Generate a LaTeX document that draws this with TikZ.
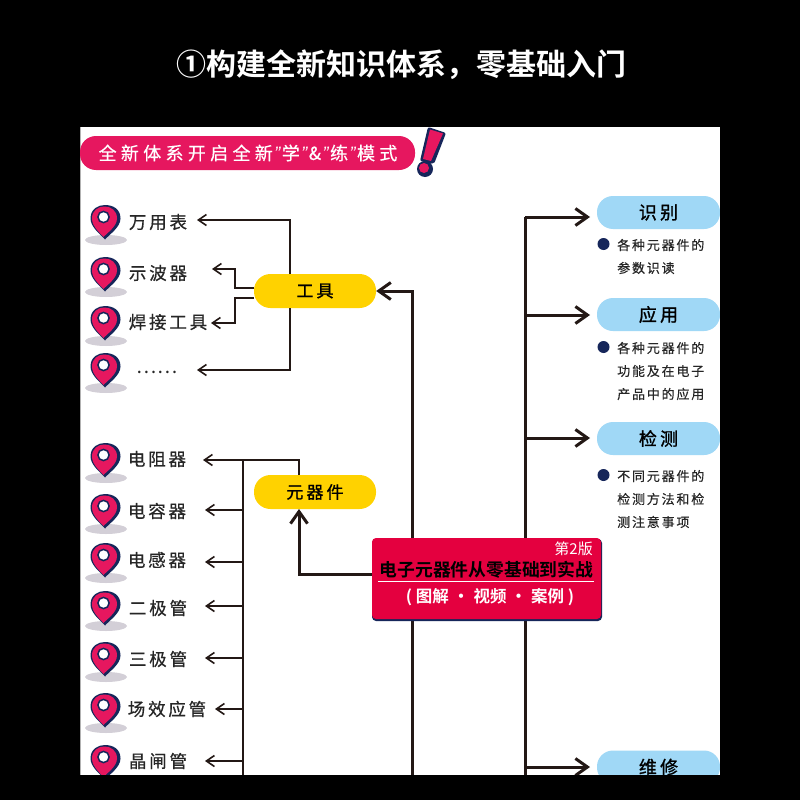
\documentclass[tikz,border=0pt]{standalone}
\usepackage{fontspec}
\usetikzlibrary{arrows.meta}
\setmainfont{Noto Sans CJK SC}
\newfontfamily\brush[LetterSpace=16,FakeBold=0.6]{Noto Sans CJK SC}
\newfontfamily\brushsmall[LetterSpace=14,FakeBold=0.4]{Noto Sans CJK SC}
\newfontfamily\brushbig[LetterSpace=18,FakeBold=1.2]{Noto Sans CJK SC}
\newfontfamily\bannerfont[LetterSpace=24,FakeBold=0.5]{Noto Sans CJK SC}
\newfontfamily\quotefont{Liberation Sans}
\newfontfamily\heavy{Noto Sans CJK SC Bold}
\definecolor{pinkred}{HTML}{E6175F}
\definecolor{boxred}{HTML}{E4003F}
\definecolor{navy}{HTML}{16265A}
\definecolor{sunny}{HTML}{FFD200}
\definecolor{skyblue}{HTML}{A0D8F6}
\definecolor{inkline}{HTML}{231815}
\definecolor{shadowgrey}{HTML}{D3CFD7}
\newcommand{\nq}{\hspace{1.5pt}{\quotefont\itshape ”}\hspace{1.5pt}}
\tikzset{
  bgfill/.style={fill=black,draw=none},
  yellowpill/.style={fill=sunny,rounded corners=16.5pt,minimum width=122pt,minimum height=34pt,inner sep=0pt,text=black,font=\brushbig\fontsize{17}{17}\selectfont},
  bluepill/.style={fill=skyblue,rounded corners=16pt,minimum width=123pt,minimum height=33pt,inner sep=0pt,text=black,font=\brushbig\fontsize{18}{18}\selectfont},
  itemlabel/.style={inner sep=0pt,text=black!85,font=\brush\fontsize{17.5}{17.5}\selectfont},
  desclabel/.style={inner sep=0pt,anchor=west,text=black!85,font=\brushsmall\fontsize{13}{13}\selectfont},
  thinline/.style={draw=inkline,line width=1.6pt},
  thinarrow/.style={thinline,-{Straight Barb[length=8pt,width=11pt,line width=1.6pt]}},
  thickline/.style={draw=inkline,line width=3pt},
  thickarrow/.style={thickline,-{Straight Barb[length=12pt,width=17pt,line width=3pt]}},
  bulletdot/.style={circle,fill=navy,minimum size=12pt,inner sep=0pt},
}
\newcommand{\mappin}[2]{%
  \begin{scope}[shift={(#1,#2)}]
    \fill[shadowgrey] (1,35) ellipse (21 and 5);
    \fill[navy] (0,34.5) .. controls (-5,29) and (-14.5,22) .. (-14.5,13.5)
      .. controls (-14.5,4) and (-7,0) .. (0,0)
      .. controls (8,0) and (15.5,4) .. (15.5,13.5)
      .. controls (15.5,22) and (5,29) .. (0,34.5) -- cycle;
    \fill[pinkred] (-1.5,32) .. controls (-5,28) and (-13,21.5) .. (-13,13.5)
      .. controls (-13,5.5) and (-7,1.5) .. (-0.5,1.5)
      .. controls (6,1.5) and (12,5.5) .. (12,13.5)
      .. controls (12,21.5) and (2,28) .. (-1.5,32) -- cycle;
    \fill[white,draw=navy,line width=1.5pt] (-1.5,12) circle (5.6);
  \end{scope}}
\begin{document}
\begin{tikzpicture}[x=1pt,y=-1pt]
\useasboundingbox (0,0) rectangle (800,800);
\fill[black] (0,0) rectangle (800,800);
\node (title) at (401,65) [text=white,inner sep=0pt,font=\heavy\fontsize{30}{30}\selectfont] {①构建全新知识体系，零基础入门};
\fill[white] (80,127) rectangle (720,775);
\fill[black!30] (80,127) rectangle (81,775);
% banner
\node (bannerbox) at (247.5,153) [fill=pinkred,rounded corners=16pt,minimum width=335pt,minimum height=34pt,inner sep=0pt] {};
\node (bannertext) at (248,153) [inner sep=0pt,text=white,font=\bannerfont\fontsize{18}{18}\selectfont] {全新体系开启全新\nq 学\nq\&\nq 练\nq 模式};
% exclamation
\begin{scope}
  \fill[navy,rounded corners=2pt] (428,127) -- (446,133) -- (434,164) -- (420,161) -- cycle;
  \fill[pinkred] (430,129.5) -- (443,133.5) -- (431,161) -- (423,159) -- cycle;
  \fill[navy] (425,169) circle (8);
  \fill[pinkred] (424,168) circle (5);
\end{scope}
% pins
\foreach \py in {205,257,306,353,443,494,543,591,642,693,745} {\mappin{105}{\py}}
% labels
\node (wanyongbiao) at (158,222) [itemlabel] {万用表};
\node (shiboqi) at (158,273) [itemlabel] {示波器};
\node (hanjie) at (168,322) [itemlabel] {焊接工具};
\node (dots) at (157,372) [itemlabel,font=\fontsize{19}{19}\selectfont] {……};
\node (dianzu) at (157,459) [itemlabel] {电阻器};
\node (dianrong) at (157,511) [itemlabel] {电容器};
\node (diangan) at (157,560) [itemlabel] {电感器};
\node (erji) at (158,608) [itemlabel] {二极管};
\node (sanji) at (158,659) [itemlabel] {三极管};
\node (changxiao) at (167,709) [itemlabel] {场效应管};
\node (jingzha) at (158,761) [itemlabel] {晶闸管};
% central structure
\coordinate (busA) at (412,775);
\coordinate (busB) at (525,775);
\coordinate (busBtop) at (525,217);
\coordinate (busC) at (243,460);
\coordinate (busCend) at (243,775);
\coordinate (tipWan) at (197,220);
\coordinate (tipShi) at (212,269);
\coordinate (tipHan) at (211,323);
\coordinate (tipDots) at (197,370);
\node (gongju) at (315,291) [yellowpill] {工具};
\node (yuanqi) at (315,492) [yellowpill] {元器件};
\node (shibie) at (658.5,212.5) [bluepill] {识别};
\node (yingyong) at (658.5,314.5) [bluepill] {应用};
\node (jiance) at (658.5,438.5) [bluepill] {检测};
\node (weixiu) at (658.5,767) [bluepill] {维修};
% thin connectors
\draw[thinarrow] (290,274) -- (290,220) -- (tipWan);
\draw[thinarrow] (290,308) -- (290,370) -- (tipDots);
\draw[thinarrow] (254,288) -- (235,288) -- (235,269) -- (tipShi);
\draw[thinarrow] (254,298) -- (235,298) -- (235,323) -- (tipHan);
\draw[thinline] (busC) -- (busCend);
\draw[thinarrow] (299,475) -- (299,460) -- (203,460);
\draw[thinarrow] (243,510) -- (205,510);
\draw[thinarrow] (243,562) -- (205,562);
\draw[thinarrow] (243,606) -- (205,606);
\draw[thinarrow] (243,658) -- (205,658);
\draw[thinarrow] (243,709) -- (215,709);
\draw[thinarrow] (243,761) -- (205,761);
% thick connectors
\draw[thickarrow] (busA) -- (412,291) -- (gongju.east);
\draw[thickline] (busB) -- (busBtop);
\draw[thickarrow] (busBtop) -- (590,217);
\draw[thickarrow] (525,315) -- (590,315);
\draw[thickarrow] (525,438) -- (590,438);
\draw[thickarrow] (525,767) -- (590,767);
\draw[thickarrow] (373,574) -- (299,574) -- (299,509);
% centre box
\fill[navy,rounded corners=4pt] (372,539) rectangle (602,621);
\node (mainbox) at (486.5,578.5) [fill=boxred,rounded corners=4pt,minimum width=229pt,minimum height=81pt,inner sep=0pt] {};
\node (edition) at (593,549) [anchor=east,inner sep=0pt,text=white,font=\fontsize{15}{15}\selectfont] {第2版};
\node (booktitle) at (486.5,570) [inner sep=0pt,text=black,font=\heavy\fontsize{17.8}{18}\selectfont] {电子元器件从零基础到实战};
\draw[white,line width=1.2pt] (378,581.5) -- (594,581.5);
\node (subtitle) at (490,597) [inner sep=0pt,text=white,font=\heavy\fontsize{16.5}{17}\selectfont] {(\hspace{4pt}图解\hspace{4pt}·\hspace{4pt}视频\hspace{4pt}·\hspace{4pt}案例\hspace{4pt})};
% descriptions
\node (dotA) at (603.5,244) [bulletdot] {};
\node (dotB) at (603.5,347) [bulletdot] {};
\node (dotC) at (603.5,475) [bulletdot] {};
\node at (617,245) [desclabel] {各种元器件的};
\node at (617,268) [desclabel] {参数识读};
\node at (617,348) [desclabel] {各种元器件的};
\node at (617,371) [desclabel] {功能及在电子};
\node at (617,394) [desclabel] {产品中的应用};
\node at (617,476) [desclabel] {不同元器件的};
\node at (617,499) [desclabel] {检测方法和检};
\node at (617,522) [desclabel] {测注意事项};
% bottom band
\fill[bgfill] (0,775) rectangle (800,800);
\fill[bgfill] (720,127) rectangle (800,800);
\end{tikzpicture}
\end{document}
